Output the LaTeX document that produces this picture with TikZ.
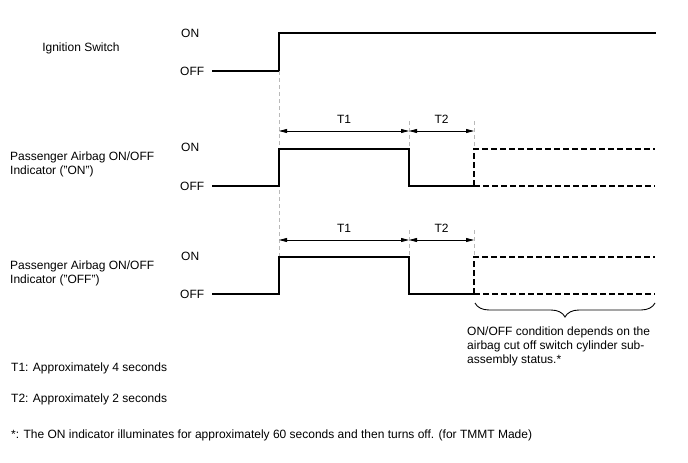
\documentclass[tikz,border=0pt]{standalone}
\usepackage{fontspec}
\setmainfont{Liberation Sans}
\usetikzlibrary{arrows.meta,decorations.pathreplacing}
\tikzset{
  sig/.style={line width=1.8pt, black},
  sigopt/.style={sig, dash pattern=on 6pt off 3pt},
  guide/.style={gray!55, line width=0.8pt, dash pattern=on 4pt off 3pt},
  span/.style={{Triangle[length=8pt,width=4pt]}-{Triangle[length=8pt,width=4pt]}, line width=0.8pt},
  lbl/.style={anchor=west, inner sep=0pt, align=left, font=\fontsize{12}{14}\selectfont},
  clbl/.style={lbl, anchor=center},
  tlbl/.style={midway, above=7pt, inner sep=0pt, font=\fontsize{12}{14}\selectfont},
}

\begin{document}
\begin{tikzpicture}[x=1pt,y=-1pt]
  \useasboundingbox (0,0) rectangle (688,463);
  % ignition switch
  \node[clbl] (ign) at (81,48) {Ignition Switch};
  \node[lbl] (ignon) at (181,33) {ON};
  \node[lbl] (ignoff) at (180,71) {OFF};
  \draw[sig] (212,71) -- (279,71) -- (279,33) -- (656,33);

  % guide lines
  \draw[guide] (279,71) -- (279,294);
  \draw[guide] (409,121) -- (409,149);
  \draw[guide] (474,121) -- (474,149);
  \draw[guide] (409,230) -- (409,257);
  \draw[guide] (474,230) -- (474,257);

  % indicator ("ON")
  \node[lbl] (inda) at (10,164) {Passenger Airbag ON/OFF\\Indicator ("ON")};
  \node[lbl] (indaon) at (181,147) {ON};
  \node[lbl] (indaoff) at (180,186) {OFF};
  \coordinate (a1) at (279,131);
  \coordinate (a2) at (409,131);
  \coordinate (a3) at (474,131);
  \draw[span] (a1) -- (a2) node[tlbl] {T1};
  \draw[span] (a2) -- (a3) node[tlbl] {T2};
  \draw[sig] (212,186) -- (279,186) -- (279,149) -- (409,149) -- (409,186) -- (474,186);
  \draw[sigopt] (474,186) -- (474,149) -- (655,149);
  \draw[sigopt] (474,186) -- (655,186);

  % indicator ("OFF")
  \node[lbl] (indb) at (10,273) {Passenger Airbag ON/OFF\\Indicator ("OFF")};
  \node[lbl] (indbon) at (181,256) {ON};
  \node[lbl] (indboff) at (180,294) {OFF};
  \coordinate (b1) at (279,240);
  \coordinate (b2) at (409,240);
  \coordinate (b3) at (474,240);
  \draw[span] (b1) -- (b2) node[tlbl] {T1};
  \draw[span] (b2) -- (b3) node[tlbl] {T2};
  \draw[sig] (212,294) -- (279,294) -- (279,257) -- (409,257) -- (409,294) -- (474,294);
  \draw[sigopt] (474,294) -- (474,257) -- (655,257);
  \draw[sigopt] (474,294) -- (655,294);

  % brace and note
  \draw[line width=0.9pt, decorate, decoration={brace, amplitude=14pt}] (655,303) -- (475,303);
  \node[lbl] (cond) at (467,346) {ON/OFF condition depends on the\\airbag cut off switch cylinder sub-\\assembly status.*};

  % legend
  \node[lbl] (t1) at (11,368) {T1: Approximately 4 seconds};
  \node[lbl] (t2) at (11,399) {T2: Approximately 2 seconds};
  \node[lbl] (note) at (11,435) {*: The ON indicator illuminates for approximately 60 seconds and then turns off. (for TMMT Made)};
\end{tikzpicture}
\end{document}
